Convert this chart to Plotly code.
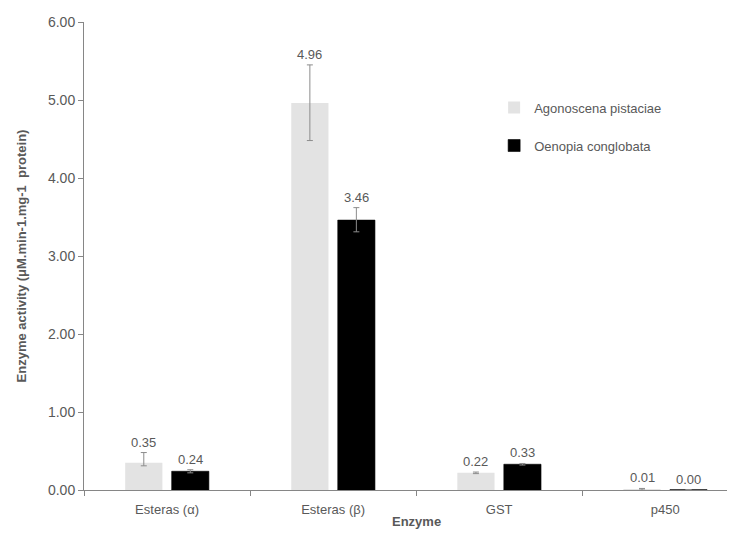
import plotly.graph_objects as go

# ---- data ----
categories = ["Esteras (α)", "Esteras (β)", "GST", "p450"]
series_names = ["Agonoscena pistaciae", "Oenopia conglobata"]
agonoscena = [0.35, 4.96, 0.22, 0.01]
oenopia = [0.24, 3.46, 0.33, 0.004]
agonoscena_err_plus = [0.13, 0.49, 0.01, 0.01]
agonoscena_err_minus = [0.04, 0.48, 0.01, 0.01]
oenopia_err_plus = [0.02, 0.16, 0.01, 0.0]
oenopia_err_minus = [0.02, 0.15, 0.01, 0.0]
y_ticks = [0, 1, 2, 3, 4, 5, 6]

# ---- style ----
BARGAP = 0.44
BARGROUPGAP = 0.2
GREY_TEXT = "#595959"
AXIS_COLOR = "#868686"
ERR_COLOR = "#8c8c8c"
FONT = "Liberation Sans, Arial, sans-serif"

x_idx = list(range(len(categories)))
slot = (1 - BARGAP) / 2
offsets = [-slot / 2, slot / 2]

fig = go.Figure()
series = [
    (series_names[0], agonoscena, agonoscena_err_plus, agonoscena_err_minus, "#e3e3e3"),
    (series_names[1], oenopia, oenopia_err_plus, oenopia_err_minus, "#000000"),
]
annotations = []
for k, (name, vals, ep, em, col) in enumerate(series):
    fig.add_trace(go.Bar(
        x=x_idx, y=vals, name=name, legendgroup=name,
        marker=dict(color=col, line=dict(width=0.6 if k == 1 else 0, color=col)),
        error_y=dict(type="data", array=ep, arrayminus=em, symmetric=False,
                     color=ERR_COLOR, thickness=1, width=3),
    ))
    for i, v, e in zip(x_idx, vals, ep):
        annotations.append(dict(
            x=i + offsets[k], y=v + e, xref="x", yref="y",
            text=f"{v:.2f}", showarrow=False, yanchor="bottom", yshift=1,
            font=dict(size=13, color=GREY_TEXT, family=FONT),
        ))

# x-axis title (centred as in the original, wider plot area)
annotations.append(dict(
    x=0.51, y=0, xref="paper", yref="paper", yanchor="middle", yshift=-31,
    text="<b>Enzyme</b>", showarrow=False,
    font=dict(size=13, color=GREY_TEXT, family=FONT),
))

fig.update_layout(
    width=727, height=528,
    margin=dict(l=76, r=0, t=14, b=46, autoexpand=False),
    paper_bgcolor="white", plot_bgcolor="white",
    barmode="group", bargap=BARGAP, bargroupgap=BARGROUPGAP,
    font=dict(family=FONT, color=GREY_TEXT, size=13),
    legend=dict(x=0.63, y=0.849, xanchor="left", yanchor="top",
                font=dict(size=13, color=GREY_TEXT), tracegroupgap=18,
                itemwidth=30, bgcolor="rgba(0,0,0,0)"),
    showlegend=True,
    annotations=annotations,
)
fig.update_xaxes(
    range=[-0.5, 3.42], tickvals=x_idx, ticktext=categories,
    ticks="outside", ticklen=7, tickcolor="rgba(0,0,0,0)",
    showline=True, linecolor=AXIS_COLOR, linewidth=1,
    showgrid=False, zeroline=False, automargin=False,
    tickfont=dict(size=13, color=GREY_TEXT),
    minor=dict(tickmode="linear", tick0=0.5, dtick=1, ticks="outside",
               ticklen=5, tickcolor=AXIS_COLOR, showgrid=False),
)
fig.update_yaxes(
    range=[0, 6], tickvals=y_ticks, tickformat=".2f",
    ticks="outside", ticklen=5, tickcolor=AXIS_COLOR,
    showline=True, linecolor=AXIS_COLOR, linewidth=1,
    showgrid=False, zeroline=False, automargin=False,
    tickfont=dict(size=14, color=GREY_TEXT),
    title=dict(text="<b>Enzyme activity (μM.min-1.mg-1  protein)</b>",
               font=dict(size=13, color=GREY_TEXT), standoff=18),
)

fig.write_html("out.html")
